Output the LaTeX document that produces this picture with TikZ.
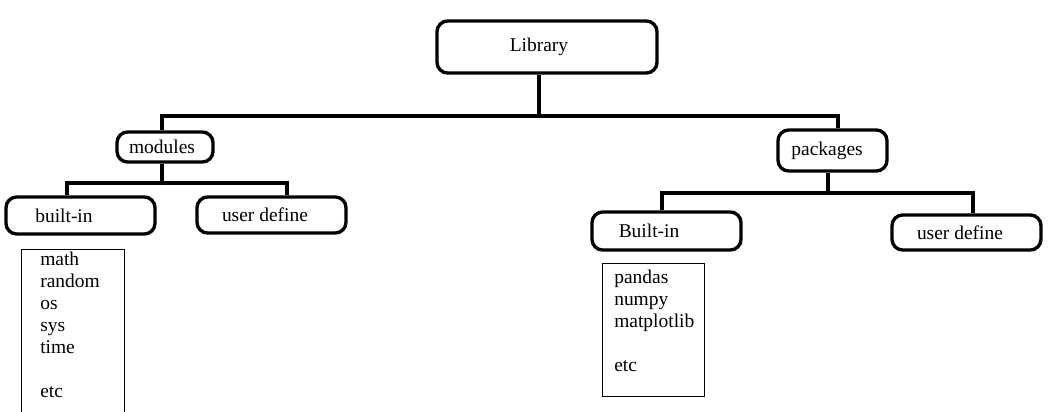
\documentclass[tikz,border=0pt]{standalone}
\usepackage{fontspec}
\setmainfont{Liberation Serif}
\newfontfamily\boxfont{Liberation Serif}
\tikzset{
  rbox/.style={draw=black, line width=2.5pt, rounded corners=8pt, inner sep=0pt},
  listframe/.style={draw=black, line width=0.75pt, inner sep=0pt, anchor=north west},
  listtext/.style={align=left, inner sep=0pt, anchor=north west},
  wire/.style={draw=black, line width=2.5pt}
}
\begin{document}
\begin{tikzpicture}[x=0.75pt, y=-0.75pt, every node/.style={font=\boxfont\fontsize{14.6}{16.5}\selectfont}]
  \useasboundingbox (0,0) rectangle (1053,411);
  \clip (0,0) rectangle (1053,411);
  \node [rbox, minimum width=165pt, minimum height=39pt, label={[xshift=-6pt]center:Library}] (lib) at (547,47) {};
  \node [rbox, minimum width=72pt, minimum height=22.5pt, label={[xshift=-2.25pt]center:modules}] (mod) at (165,147) {};
  \node [rbox, minimum width=81.75pt, minimum height=30.75pt, label={[xshift=-4.1pt]center:packages}] (pkg) at (832.5,150.5) {};
  \node [rbox, minimum width=111.75pt, minimum height=27.75pt, label={[xshift=-12.4pt]center:built-in}] (bil) at (80.5,215.5) {};
  \node [rbox, minimum width=111.75pt, minimum height=27pt, label={[xshift=-4.9pt]center:user define}] (udl) at (271.5,215) {};
  \node [rbox, minimum width=111.75pt, minimum height=28.5pt, label={[xshift=-13.1pt]center:Built-in}] (bir) at (666.5,231) {};
  \node [rbox, minimum width=111.75pt, minimum height=26.25pt, label={[xshift=-4.9pt]center:user define}] (udr) at (966.5,232.5) {};
  \node [listframe, minimum width=77.25pt, minimum height=127.5pt] (modlist) at (21,249) {};
  \node [listtext] (modtext) at ([xshift=14.25pt, yshift=-2.4pt]modlist.north west) {math\\random\\os\\sys\\time\\[16.5pt]etc};
  \node [listframe, minimum width=76.5pt, minimum height=99.75pt] (pkglist) at (602,263) {};
  \node [listtext] (pkgtext) at ([xshift=9pt, yshift=-5pt]pkglist.north west) {pandas\\numpy\\matplotlib\\[16.5pt]etc};
  \coordinate (top) at (539,116);
  \coordinate (mj) at (162,183);
  \coordinate (pj) at (828,193);
  \draw [wire] (lib.south -| top) -- (top);
  \draw [wire] ([xshift=-2.25pt]mod.north) |- (top) -| ([xshift=4pt]pkg.north);
  \draw [wire] (mod.south -| mj) -- (mj);
  \draw [wire] ([xshift=-10.1pt]bil.north) |- (mj) -| ([xshift=11.6pt]udl.north);
  \draw [wire] (pkg.south -| pj) -- (pj);
  \draw [wire] ([xshift=-3.4pt]bir.north) |- (pj) -| ([xshift=4.9pt]udr.north);
\end{tikzpicture}
\end{document}
